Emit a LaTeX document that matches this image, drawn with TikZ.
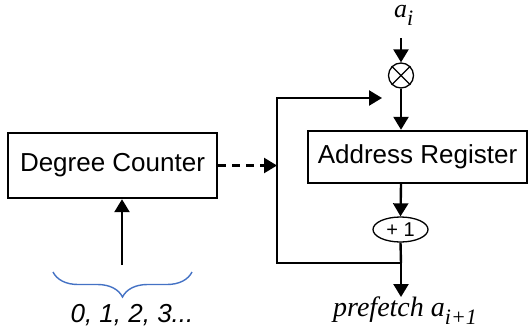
\documentclass[tikz,border=0pt]{standalone}
\usepackage{fontspec}
\setmainfont{Liberation Serif}
\setsansfont{Liberation Sans}
\usepackage{tikz}
\usetikzlibrary{arrows.meta,shapes,positioning,decorations.pathreplacing}
\usepackage{xcolor}
\definecolor{brblue}{RGB}{68,114,196}
\newcommand{\lowidx}[1]{\raisebox{-8pt}{\fontsize{22}{26}\selectfont #1}}
\tikzstyle{line} = [line width=2.4pt]
\tikzstyle{arrow} = [line width=2.4pt,-{Triangle[length=13pt,width=15pt]}]
\tikzstyle{unit} = [rectangle, draw, line width=2.4pt, inner sep=0pt, font=\sffamily\fontsize{26}{30}\selectfont]
\tikzstyle{label} = [font=\itshape\fontsize{28}{32}\selectfont, anchor=base west, inner sep=0pt]

\begin{document}
\begin{tikzpicture}[x=1pt,y=1pt]
\useasboundingbox (0,0) rectangle (529,333);
% Counter and its input range
\node[unit, minimum width=209pt, minimum height=65pt] (dc) at (112.5,167.5) {Degree Counter};
\coordinate (cnt) at (122,68);
\coordinate (bl) at (53,61);
\coordinate (br) at (192,61);
\draw[brblue, line width=1.4pt, decorate, decoration={brace, mirror, amplitude=25pt}] (bl) -- (br);
\node[font=\sffamily\itshape\fontsize{26}{30}\selectfont, anchor=base] (seq) at (132,11) {0, 1, 2, 3...};
\draw[arrow] (cnt) -- (cnt |- dc.south);
% Address path
\node[label, font=\itshape\fontsize{26}{28}\selectfont] (ai) at (394,316) {a\lowidx{i}};
\coordinate (top) at (401,295);
\node[circle, draw, line width=1.3pt, minimum size=25pt, inner sep=0pt] (mul) at (401,257.5) {};
\draw[line width=1.3pt] (mul.north west) -- (mul.south east) (mul.north east) -- (mul.south west);
\node[unit, minimum width=219pt, minimum height=52pt] (ar) at (417.5,176) {Address Register};
\node[ellipse, draw, line width=1.3pt, minimum width=55pt, minimum height=25pt, inner sep=0pt, font=\sffamily\fontsize{20}{24}\selectfont] (inc) at (400.5,103.5) {+ 1};
\coordinate (j) at (401,70);
\coordinate (pfin) at (401,36);
\node[label] (pf) at (333,17) {prefetch a\lowidx{i+1}};
\draw[arrow] (top) -- (mul.north);
\draw[arrow] (mul.south) -- (mul.south |- ar.north);
\draw[arrow] (ar.south -| j) -- (inc.north);
\draw[line] (inc.south) -- (j);
\draw[arrow] (j) -- (pfin);
% Feedback loop
\coordinate (fb) at (277,235);
\coordinate (fbend) at (382,235);
\draw[arrow] (j) -| (fb) -- (fbend);
\draw[arrow, dashed, dash pattern=on 8pt off 6pt] (dc.east) -- (dc.east -| fb);
\end{tikzpicture}
\end{document}
